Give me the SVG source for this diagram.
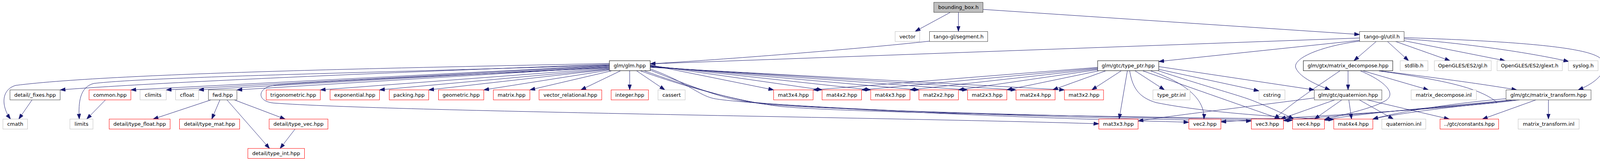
<svg xmlns="http://www.w3.org/2000/svg" width="4147" height="411" viewBox="0 0 4147 411">
<style>
rect{fill:#ffffff;stroke-width:1}
.gray rect{stroke:#bfbfbf}
.red rect{stroke:#ff0000}
.doc rect{stroke:#404040}
.blk rect{stroke:#000000}
.root rect{fill:#bfbfbf;stroke:#404040}
text{font-family:"DejaVu Sans","Liberation Sans",sans-serif;font-size:13px;text-anchor:middle;fill:#000000}
#edges path{fill:none;stroke:#191970;stroke-width:1;marker-end:url(#arr)}
</style>
<defs>
<marker id="arr" markerUnits="userSpaceOnUse" markerWidth="14" markerHeight="10" refX="13.5" refY="5" orient="auto" viewBox="0 0 14 10">
<path d="M0.5,0.5 L13.5,5 L0.5,9.5 z" fill="#191970" stroke="#191970" stroke-width="1"/>
</marker>
</defs>
<g id="edges">
<path d="M2432,32 L2343,80"/>
<path d="M2453.5,32 L2453.5,80"/>
<path d="M2516.5,24 L3480.5,88"/>
<path d="M2380,105 C2200,125 1850,152 1664.5,163"/>
<path d="M3480.5,97 L1664.5,163"/>
<path d="M3480.5,103 L2966.5,157"/>
<path d="M3480.5,105 C3380,118 3305,150 3318,175 C3330,200 3375,218 3405,229.5"/>
<path d="M3523,106 L3466,155"/>
<path d="M3552,106 L3606,155"/>
<path d="M3573,106 L3712,155"/>
<path d="M3594.5,104 L3853,155"/>
<path d="M3594.5,99 C3750,110 3920,135 4016,157"/>
<path d="M3594.5,96 C3900,106 4070,122 4098,150 C4120,175 4095,208 4040,229.5"/>
<path d="M3451,181 L3451,229.5"/>
<path d="M3430,181 C3380,215 3300,268 3262,304"/>
<path d="M3483,181 C3540,205 3575,235 3550,255 C3520,275 3450,290 3390.5,305"/>
<path d="M3490,181 L3657,229.5"/>
<path d="M3533,181 C3650,195 3800,215 3883,229.5"/>
<path d="M3530,181 C3700,205 3790,225 3833,262 C3750,268 3560,292 3514.5,304"/>
<path d="M3364.5,250 C3200,272 3000,295 2913.5,309"/>
<path d="M3417,255 L3278,304"/>
<path d="M3435,255 L3365,304"/>
<path d="M3453,255 L3460,304"/>
<path d="M3480,255 L3567,304"/>
<path d="M3500,255 L3710,304"/>
<path d="M3932,255 L3795,304"/>
<path d="M3964,255 L3964,304"/>
<path d="M3855.5,252 C3700,265 3560,290 3514.5,304"/>
<path d="M3870,255 C3700,272 3450,292 3390.5,307"/>
<path d="M3880,255 C3700,275 3400,296 3285.5,308"/>
<path d="M3890,255 C3700,280 3300,300 3125.5,311"/>
<path d="M2966.5,170 L3364.5,229.5"/>
<path d="M2966.5,177 L3223,232"/>
<path d="M2966.5,181 C3100,225 3180,245 3215,260 C3260,278 3295,295 3312,304"/>
<path d="M2926,181 L3278,304"/>
<path d="M2946,181 C3030,210 3085,250 3082,304"/>
<path d="M2892,181 C2900,230 2920,250 2960,262 C3100,290 3300,300 3414.5,305"/>
<path d="M2886,181 L2865,304"/>
<path d="M2906,181 L2981,229.5"/>
<path d="M2810,172 L2081.5,229.5"/>
<path d="M2810,174 L2205.5,229.5"/>
<path d="M2810,176 L2329.5,229.5"/>
<path d="M2810,178 L2453.5,229.5"/>
<path d="M2812,181 L2577.5,229.5"/>
<path d="M2830,181 L2695,229.5"/>
<path d="M2870,181 L2795,229.5"/>
<path d="M1560,162 C1100,172 300,185 40,218 C0,230 5,275 27,304"/>
<path d="M1560,164 C1000,185 400,210 154,229.5"/>
<path d="M1560,166 C1000,185 400,195 240,213 C205,222 200,260 203,304"/>
<path d="M1560,167 L335,229.5"/>
<path d="M1560,168 L425.5,229.5"/>
<path d="M1560,170 L508.5,229.5"/>
<path d="M1560,171 L606.5,229.5"/>
<path d="M1560,173 C1200,190 760,210 700,218 C660,224 655,258 700,263 C1000,285 2300,300 2813,316"/>
<path d="M1560,174 L820,229.5"/>
<path d="M1560,176 L971.5,229.5"/>
<path d="M1560,177 L1097.5,229.5"/>
<path d="M1560,179 L1238.5,229.5"/>
<path d="M1565,181 L1356.5,229.5"/>
<path d="M1588,181 L1487,229.5"/>
<path d="M1612,181 L1612,229.5"/>
<path d="M1630,181 L1702,229.5"/>
<path d="M1664.5,166 L1980.5,229.5"/>
<path d="M1664.5,167 L2104.5,229.5"/>
<path d="M1664.5,168 L2229,229.5"/>
<path d="M1664.5,169 L2352.5,229.5"/>
<path d="M1664.5,170 L2477,229.5"/>
<path d="M1664.5,171 L2601,229.5"/>
<path d="M1664.5,172 L2725,229.5"/>
<path d="M1664.5,176 C1760,210 1790,245 1830,252 C1900,265 2400,295 3043.5,312"/>
<path d="M1664.5,179 C1780,225 1850,250 1900,258 C2000,272 2600,300 3203.5,309"/>
<path d="M1650,181 C1800,235 1900,258 1950,265 C2050,278 2800,300 3309,307"/>
<path d="M1640,181 C1820,245 1950,266 2000,272 C2200,290 3000,300 3414.5,305"/>
<path d="M540,255 L392,304"/>
<path d="M563,255 L542,304"/>
<path d="M581,255 L690,379"/>
<path d="M600,255 L730,304"/>
<path d="M755,330 L717,379"/>
<path d="M82,255 L48,304"/>
<path d="M270,255 L222,304"/>
</g>
<g id="n_bounding_box" class="root"><rect x="2390.5" y="6" width="126" height="25.5"/><text x="2453.5" y="23">bounding_box.h</text></g>
<g id="n_vector" class="gray"><rect x="2291.5" y="80.5" width="63" height="25.5"/><text x="2323" y="97.5">vector</text></g>
<g id="n_segment" class="doc"><rect x="2379.5" y="80.5" width="149" height="25.5"/><text x="2454" y="97.5">tango-gl/segment.h</text></g>
<g id="n_util" class="doc"><rect x="3480.5" y="80.5" width="114" height="25.5"/><text x="3537.5" y="97.5">tango-gl/util.h</text></g>
<g id="n_glm" class="blk"><rect x="1560" y="155" width="104.5" height="25.5"/><text x="1612.2" y="172">glm/glm.hpp</text></g>
<g id="n_type_ptr" class="blk"><rect x="2810" y="155" width="156.5" height="25.5"/><text x="2888.2" y="172">glm/gtc/type_ptr.hpp</text></g>
<g id="n_matrix_decompose" class="blk"><rect x="3336.5" y="155" width="229" height="25.5"/><text x="3451" y="172">glm/gtx/matrix_decompose.hpp</text></g>
<g id="n_stdlib" class="gray"><rect x="3584.5" y="155" width="71" height="25.5"/><text x="3620" y="172">stdlib.h</text></g>
<g id="n_gl" class="gray"><rect x="3672" y="155" width="145.5" height="25.5"/><text x="3744.7" y="172">OpenGLES/ES2/gl.h</text></g>
<g id="n_glext" class="gray"><rect x="3832.5" y="155" width="167" height="25.5"/><text x="3916" y="172">OpenGLES/ES2/glext.h</text></g>
<g id="n_syslog" class="gray"><rect x="4015" y="155" width="76" height="25.5"/><text x="4053" y="172">syslog.h</text></g>
<g id="n_fixes" class="doc"><rect x="25.5" y="229.5" width="128.5" height="25.5"/><text x="89.7" y="246.5">detail/_fixes.hpp</text></g>
<g id="n_common" class="red"><rect x="228" y="229.5" width="107" height="25.5"/><text x="281.5" y="246.5">common.hpp</text></g>
<g id="n_climits" class="gray"><rect x="358.5" y="229.5" width="67" height="25.5"/><text x="392" y="246.5">climits</text></g>
<g id="n_cfloat" class="gray"><rect x="449.5" y="229.5" width="59" height="25.5"/><text x="479" y="246.5">cfloat</text></g>
<g id="n_fwd" class="doc"><rect x="533.5" y="229.5" width="73" height="25.5"/><text x="570" y="246.5">fwd.hpp</text></g>
<g id="n_trigonometric" class="red"><rect x="681.5" y="229.5" width="138.5" height="25.5"/><text x="750.7" y="246.5">trigonometric.hpp</text></g>
<g id="n_exponential" class="red"><rect x="845" y="229.5" width="126.5" height="25.5"/><text x="908.2" y="246.5">exponential.hpp</text></g>
<g id="n_packing" class="red"><rect x="996.5" y="229.5" width="101" height="25.5"/><text x="1047" y="246.5">packing.hpp</text></g>
<g id="n_geometric" class="red"><rect x="1122.5" y="229.5" width="116" height="25.5"/><text x="1180.5" y="246.5">geometric.hpp</text></g>
<g id="n_matrix" class="red"><rect x="1263" y="229.5" width="93.5" height="25.5"/><text x="1309.7" y="246.5">matrix.hpp</text></g>
<g id="n_vector_relational" class="red"><rect x="1380" y="229.5" width="160.5" height="25.5"/><text x="1460.2" y="246.5">vector_relational.hpp</text></g>
<g id="n_integer" class="red"><rect x="1564.5" y="229.5" width="95.5" height="25.5"/><text x="1612.2" y="246.5">integer.hpp</text></g>
<g id="n_cassert" class="gray"><rect x="1684.5" y="229.5" width="69.5" height="25.5"/><text x="1719.2" y="246.5">cassert</text></g>
<g id="n_mat3x4" class="red"><rect x="1980.5" y="229.5" width="101" height="25.5"/><text x="2031" y="246.5">mat3x4.hpp</text></g>
<g id="n_mat4x2" class="red"><rect x="2104.5" y="229.5" width="101" height="25.5"/><text x="2155" y="246.5">mat4x2.hpp</text></g>
<g id="n_mat4x3" class="red"><rect x="2229" y="229.5" width="100.5" height="25.5"/><text x="2279.2" y="246.5">mat4x3.hpp</text></g>
<g id="n_mat2x2" class="red"><rect x="2352.5" y="229.5" width="101" height="25.5"/><text x="2403" y="246.5">mat2x2.hpp</text></g>
<g id="n_mat2x3" class="red"><rect x="2477" y="229.5" width="100.5" height="25.5"/><text x="2527.2" y="246.5">mat2x3.hpp</text></g>
<g id="n_mat2x4" class="red"><rect x="2601" y="229.5" width="100" height="25.5"/><text x="2651" y="246.5">mat2x4.hpp</text></g>
<g id="n_mat3x2" class="red"><rect x="2725" y="229.5" width="100" height="25.5"/><text x="2775" y="246.5">mat3x2.hpp</text></g>
<g id="n_type_ptr_inl" class="gray"><rect x="2951.5" y="229.5" width="95" height="25.5"/><text x="2999" y="246.5">type_ptr.inl</text></g>
<g id="n_cstring" class="gray"><rect x="3223" y="229.5" width="66.5" height="25.5"/><text x="3256.2" y="246.5">cstring</text></g>
<g id="n_quaternion" class="doc"><rect x="3364.5" y="229.5" width="173" height="25.5"/><text x="3451" y="246.5">glm/gtc/quaternion.hpp</text></g>
<g id="n_matrix_decompose_inl" class="gray"><rect x="3612.5" y="229.5" width="167" height="25.5"/><text x="3696" y="246.5">matrix_decompose.inl</text></g>
<g id="n_matrix_transform" class="doc"><rect x="3855.5" y="229.5" width="217.5" height="25.5"/><text x="3964.2" y="246.5">glm/gtc/matrix_transform.hpp</text></g>
<g id="n_cmath" class="gray"><rect x="7.5" y="304" width="63" height="25.5"/><text x="39" y="321">cmath</text></g>
<g id="n_limits" class="gray"><rect x="179" y="304" width="59" height="25.5"/><text x="208.5" y="321">limits</text></g>
<g id="n_type_float" class="red"><rect x="279.5" y="304" width="156" height="25.5"/><text x="357.5" y="321">detail/type_float.hpp</text></g>
<g id="n_type_mat" class="red"><rect x="459.5" y="304" width="154" height="25.5"/><text x="536.5" y="321">detail/type_mat.hpp</text></g>
<g id="n_type_vec" class="red"><rect x="689" y="304" width="150.5" height="25.5"/><text x="764.2" y="321">detail/type_vec.hpp</text></g>
<g id="n_mat3x3" class="red"><rect x="2813" y="304" width="100.5" height="25.5"/><text x="2863.2" y="321">mat3x3.hpp</text></g>
<g id="n_vec2" class="red"><rect x="3043.5" y="304" width="82" height="25.5"/><text x="3084.5" y="321">vec2.hpp</text></g>
<g id="n_vec3" class="red"><rect x="3203.5" y="304" width="82" height="25.5"/><text x="3244.5" y="321">vec3.hpp</text></g>
<g id="n_vec4" class="red"><rect x="3309" y="304" width="81.5" height="25.5"/><text x="3349.7" y="321">vec4.hpp</text></g>
<g id="n_mat4x4" class="red"><rect x="3414.5" y="304" width="100" height="25.5"/><text x="3464.5" y="321">mat4x4.hpp</text></g>
<g id="n_quaternion_inl" class="gray"><rect x="3537.5" y="304" width="112.5" height="25.5"/><text x="3593.7" y="321">quaternion.inl</text></g>
<g id="n_constants" class="red"><rect x="3686.5" y="304" width="150" height="25.5"/><text x="3761.5" y="321">../gtc/constants.hpp</text></g>
<g id="n_matrix_transform_inl" class="gray"><rect x="3886.5" y="304" width="156" height="25.5"/><text x="3964.5" y="321">matrix_transform.inl</text></g>
<g id="n_type_int" class="red"><rect x="634.5" y="379" width="145" height="25.5"/><text x="707" y="396">detail/type_int.hpp</text></g>
</svg>
